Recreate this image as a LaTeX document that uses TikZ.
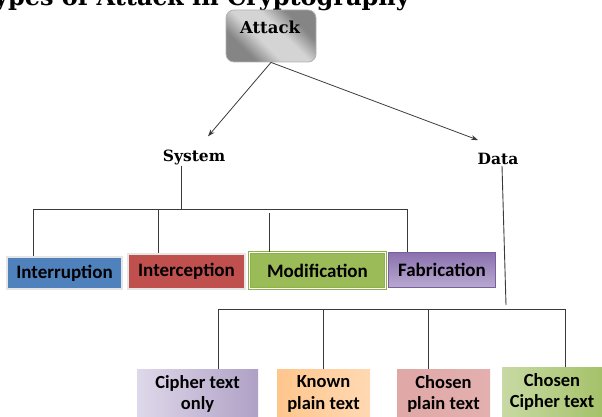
\documentclass[tikz,border=0pt]{standalone}
\usepackage{fontspec}
\setmainfont{DejaVu Serif}
\newfontfamily\boxfont{Carlito}
\usetikzlibrary{arrows.meta}

\definecolor{blueF}{HTML}{4F81BD}
\definecolor{redF}{HTML}{C0504D}
\definecolor{greenF}{HTML}{9BBB59}
\definecolor{greenB}{HTML}{8DB24C}
\definecolor{purpleT}{HTML}{8A70AE}
\definecolor{purpleB}{HTML}{B8A9D0}
\definecolor{purpleD}{HTML}{7A5F9E}
\definecolor{silverD}{HTML}{858585}
\definecolor{silverL}{HTML}{D4D4D4}
\definecolor{lineC}{HTML}{3A3A3A}

% metallic band: dark towards two opposite corners, light across the middle
\pgfdeclarehorizontalshading{silverband}{100bp}{%
  color(0bp)=(silverD); color(30bp)=(silverD); color(43bp)=(silverL);
  color(57bp)=(silverL); color(70bp)=(silverD); color(100bp)=(silverD)}

\tikzset{
  serifbold/.style={font=\bfseries\fontsize{15.5}{18}\selectfont, inner sep=1pt},
  boxtxt/.style={rectangle, inner sep=0pt, text=black, align=center,
    font=\boxfont\bfseries\fontsize{19}{22}\selectfont},
  flatbox/.style={boxtxt, draw=white!80!gray, line width=1.4pt},
  leafbox/.style={boxtxt, minimum height=50pt, draw=none,
    font=\boxfont\bfseries\fontsize{18.5}{21.5}\selectfont},
  arrowline/.style={draw=lineC, line width=0.8pt, -{Stealth[length=7pt,width=5pt]}},
  tree/.style={draw=lineC, line width=0.9pt}
}

\begin{document}
\begin{tikzpicture}[x=1pt, y=-1pt]
  \useasboundingbox (0,0) rectangle (602,417);
  \clip (0,0) rectangle (602,417);

  % heading, partly cut by the page edge
  \node[anchor=base east, font=\bfseries\fontsize{24}{28}\selectfont, inner sep=0pt]
    (title) at (410,6) {Types of Attack in Cryptography};

  % root
  \node[rectangle, rounded corners=8pt, minimum width=90pt, minimum height=52pt,
        draw=gray!60, line width=0.8pt, shading=silverband, shading angle=45]
    (attack) at (271,36) {};
  \node[serifbold, font=\bfseries\fontsize{16.5}{19}\selectfont] (attacklbl) at (270,27) {Attack};

  % second level
  \node[serifbold] (sys) at (194,157) {System};
  \node[serifbold] (data) at (498,159) {Data};

  \draw[arrowline] (attack.south) -- ([shift={(14,-12)}]sys.north);
  \draw[arrowline] (attack.south) -- ([shift={(-20,-12)}]data.north);

  % system attacks
  \node[flatbox, fill=blueF, minimum width=115pt, minimum height=32pt]
    (intr) at (64.5,273) {Interruption};
  \node[flatbox, fill=redF, minimum width=117pt, minimum height=35pt]
    (incp) at (186.5,271.5) {Interception};
  \node[boxtxt, fill=greenF, draw=greenB, double=white, double distance=1.1pt,
        line width=1.1pt, minimum width=136pt, minimum height=36pt]
    (modf) at (317.5,270.5) {Modification};
  \node[boxtxt, top color=purpleT, bottom color=purpleB, draw=purpleD, line width=0.7pt,
        minimum width=107pt, minimum height=35pt]
    (fabr) at (442,269.5) {Fabrication};

  \coordinate (sysbar) at (181,209);
  \coordinate (b1) at (33,209);
  \coordinate (b2) at (158,209);
  \coordinate (b3) at (269,209);
  \coordinate (b4) at (407,209);
  \draw[tree] (sys.south -| sysbar) -- (sysbar);
  \draw[tree] (b1) -- (b4);
  \draw[tree] (b1) -- (b1 |- intr.north);
  \draw[tree] (b2) -- (b2 |- incp.north);
  \draw[tree] ([yshift=-4]b3) -- (b3 |- modf.north);
  \draw[tree] (b4) -- (b4 |- fabr.north);

  % data attacks
  \node[leafbox, left color=purpleB!45, right color=purpleB!95!black, minimum width=121pt]
    (cto) at (197.5,394) {Cipher text\\only};
  \node[leafbox, left color=orange!45!white, middle color=orange!8!white,
        right color=orange!30!white, minimum width=93pt]
    (kpt) at (323.5,394) {Known\\plain text};
  \node[leafbox, left color=redF!50!white, middle color=redF!15!white,
        right color=redF!45!white, minimum width=93pt]
    (cpt) at (443.5,394) {Chosen\\plain text};
  \node[leafbox, left color=greenF!55!white, right color=greenF!90!white, minimum width=100pt]
    (cct) at (552,392) {Chosen\\Cipher text};

  \coordinate (dj) at (506,309);
  \coordinate (c1) at (218,309);
  \coordinate (c2) at (323,309);
  \coordinate (c3) at (428,309);
  \coordinate (c4) at (565,309);
  \draw[tree] ([xshift=4]data.south) -- ([yshift=4]dj);
  \draw[tree] (c1) -- (c4);
  \draw[tree] (c1) -- (c1 |- cto.north);
  \draw[tree] (c2) -- (c2 |- kpt.north);
  \draw[tree] (c3) -- (c3 |- cpt.north);
  \draw[tree] (c4) -- (c4 |- cct.north);
\end{tikzpicture}
\end{document}
